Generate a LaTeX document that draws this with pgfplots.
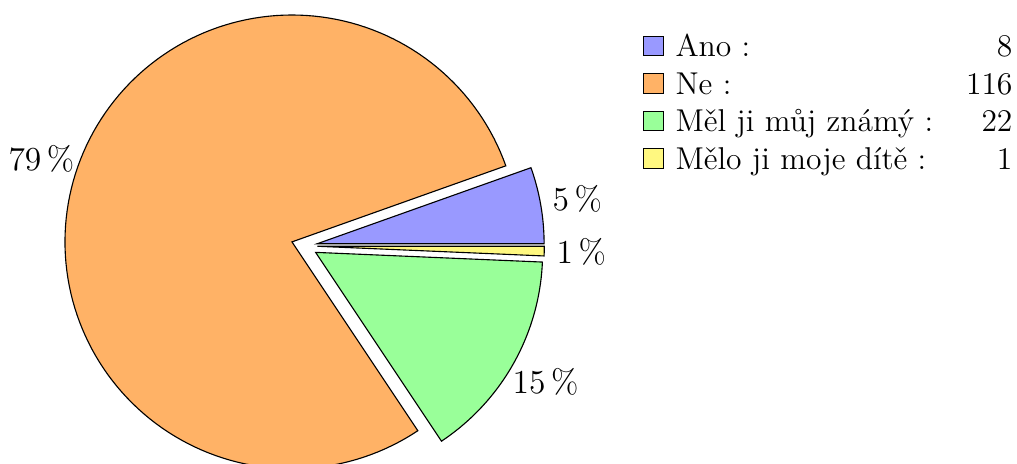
\documentclass[border=0pt]{standalone}
\usepackage{fontspec}
\usepackage{pgfplots}
\pgfplotsset{compat=1.18}
% data
\def\vA{8}\def\vB{116}\def\vC{22}\def\vD{1}
% geometry (pixel-like units)
\def\cx{304.3}\def\cy{217.9}\def\R{227}\def\E{13}\def\L{277}
\pgfmathsetmacro\tot{\vA+\vB+\vC+\vD}
\pgfmathsetmacro\aA{0}
\pgfmathsetmacro\aB{\aA+360/\tot*\vA}
\pgfmathsetmacro\aC{\aB+360/\tot*\vB}
\pgfmathsetmacro\aD{\aC+360/\tot*\vC}
\pgfmathsetmacro\aE{360}
\newcommand\slice[5]{%
  \pgfmathsetmacro\md{(#1+#2)/2}%
  \pgfmathsetmacro\ox{\cx+\E*cos(\md)}%
  \pgfmathsetmacro\oy{\cy+\E*sin(\md)}%
  \pgfmathsetmacro\lx{\cx+\L*cos(\md)}%
  \pgfmathsetmacro\ly{\cy+\L*sin(\md)}%
  \pgfmathtruncatemacro\pc{round(100/\tot*#4)}%
  \edef\doslice{%
    \noexpand\addplot[fill=#3, draw=black, line width=0.4pt, domain=#1:#2, samples=#5]
      ({\ox+\R*cos(x)},{\oy+\R*sin(x)}) -- (axis cs:\ox,\oy) -- cycle;
    \noexpand\node at (axis cs:\lx,\ly) {\noexpand\large \pc\noexpand\,\noexpand\%};
  }\doslice
}
\tikzset{lgtext/.style={inner sep=0pt, font=\fontsize{11.3}{13}\selectfont},
  lgbox/.style={draw=black, minimum size=7pt, inner sep=0pt, anchor=south}}
\begin{document}
\begin{tikzpicture}
\begin{axis}[hide axis, scale only axis, width=364pt, height=166pt,
  xmin=0, xmax=1017, ymin=0, ymax=464, clip=true]
\slice{\aA}{\aB}{blue!40}{\vA}{30}
\slice{\aB}{\aC}{orange!60}{\vB}{150}
\slice{\aC}{\aD}{green!40}{\vC}{40}
\slice{\aD}{\aE}{yellow!50}{\vD}{5}
% legend
\node[lgbox, fill=blue!40] at (axis cs:653.5,407.5) {};
\node[lgtext, anchor=base west] at (axis cs:675,407) {Ano :};
\node[lgtext, anchor=base east] at (axis cs:1013,407) {8};
\node[lgbox, fill=orange!60] at (axis cs:653.5,370) {};
\node[lgtext, anchor=base west] at (axis cs:675,369.5) {Ne :};
\node[lgtext, anchor=base east] at (axis cs:1013,369.5) {116};
\node[lgbox, fill=green!40] at (axis cs:653.5,332.5) {};
\node[lgtext, anchor=base west] at (axis cs:675,332) {Měl ji můj známý :};
\node[lgtext, anchor=base east] at (axis cs:1013,332) {22};
\node[lgbox, fill=yellow!50] at (axis cs:653.5,295) {};
\node[lgtext, anchor=base west] at (axis cs:675,294.5) {Mělo ji moje dítě :};
\node[lgtext, anchor=base east] at (axis cs:1013,294.5) {1};
\end{axis}
\pgfresetboundingbox
\path (current axis.south west) rectangle (current axis.north east);
\end{tikzpicture}
\end{document}
